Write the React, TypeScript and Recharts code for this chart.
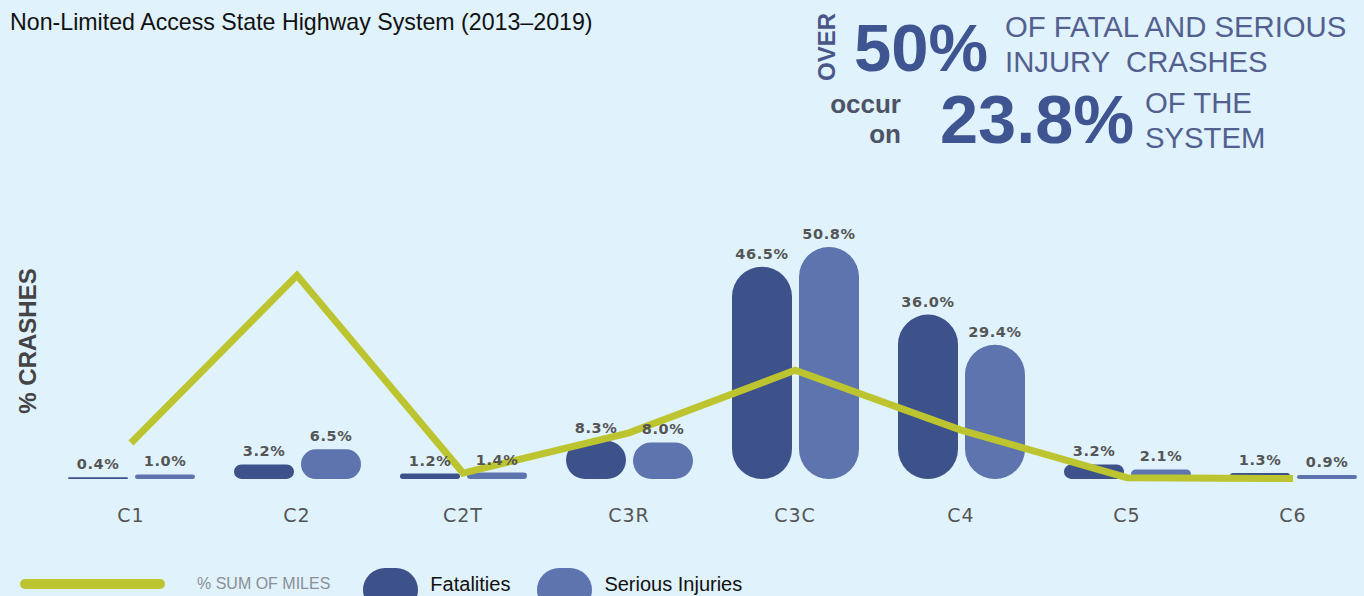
import { ComposedChart, Bar, Line, XAxis, YAxis, LabelList } from "recharts";

const categories = ["C1", "C2", "C2T", "C3R", "C3C", "C4", "C5", "C6"];
const fatalities = [0.4, 3.2, 1.2, 8.3, 46.5, 36.0, 3.2, 1.3];
const seriousInjuries = [1.0, 6.5, 1.4, 8.0, 50.8, 29.4, 2.1, 0.9];
const sumOfMiles = [7.9, 44.6, 1.3, 10.1, 23.8, 10.7, 0.3, 0.1];

const BG = "#e0f2fc";
const DARK = "#3d528a";
const LIGHT = "#5d74ae";
const LIME = "#bcc52f";
const SANS = "'Liberation Sans', Arial, sans-serif";

const data = categories.map((name, i) => ({
  name,
  fatalities: fatalities[i],
  serious: seriousInjuries[i],
  miles: sumOfMiles[i],
}));

const pct = (v: any) => `${Number(v).toFixed(1)}%`;

const labelStyle = {
  fontSize: 14.5,
  fontWeight: 700,
  fill: "#555",
  letterSpacing: 0.6,
  fontFamily: "'DejaVu Sans', sans-serif",
};

function Callout() {
  return (
    <svg
      width={1364}
      height={160}
      style={{ position: "absolute", left: 0, top: 0 }}
    >
      <text x={10} y={30} fontSize={23.2} fontFamily={SANS} fill="#111">
        Non-Limited Access State Highway System (2013–2019)
      </text>
      <text
        transform="translate(835,47) rotate(-90)"
        textAnchor="middle"
        fontSize={24}
        fontWeight={700}
        fontFamily={SANS}
        fill="#4a5688"
      >
        OVER
      </text>
      <text x={854} y={71} fontSize={67} fontWeight={700} fontFamily={SANS} fill="#3f5591">
        50%
      </text>
      <text x={1005} y={37} fontSize={29.3} fontFamily={SANS} fill="#52608f">
        OF FATAL AND SERIOUS
      </text>
      <text x={1005} y={72} fontSize={29.3} fontFamily={SANS} fill="#52608f" style={{ whiteSpace: "pre" }}>
        INJURY  CRASHES
      </text>
      <text x={901} y={113} textAnchor="end" fontSize={26} fontWeight={700} fontFamily={SANS} fill="#4d5366">
        occur
      </text>
      <text x={901} y={143} textAnchor="end" fontSize={26} fontWeight={700} fontFamily={SANS} fill="#4d5366">
        on
      </text>
      <text x={940} y={143} fontSize={68.5} fontWeight={700} fontFamily={SANS} fill="#3f5591">
        23.8%
      </text>
      <text x={1145} y={113} fontSize={29.3} fontFamily={SANS} fill="#52608f">
        OF THE
      </text>
      <text x={1145} y={148} fontSize={29.3} fontFamily={SANS} fill="#52608f">
        SYSTEM
      </text>
    </svg>
  );
}

const legendItems = [
  { name: "% SUM OF MILES", kind: "line", color: LIME, gap: 0 },
  { name: "Fatalities", kind: "bar", color: DARK, gap: 33 },
  { name: "Serious Injuries", kind: "bar", color: LIGHT, gap: 27 },
];

function ChartLegend() {
  return (
    <div
      style={{
        position: "absolute",
        left: 20,
        top: 568,
        display: "flex",
        alignItems: "flex-start",
        fontFamily: SANS,
      }}
    >
      {legendItems.map((item) =>
        item.kind === "line" ? (
          <div key={item.name} style={{ display: "flex", alignItems: "center", height: 32 }}>
            <div style={{ width: 145, height: 10, borderRadius: 5, background: item.color }} />
            <span style={{ marginLeft: 32, fontSize: 16, color: "#8a8f96", whiteSpace: "nowrap" }}>
              {item.name}
            </span>
          </div>
        ) : (
          <div key={item.name} style={{ display: "flex", alignItems: "flex-start", marginLeft: item.gap }}>
            <div style={{ width: 55, height: 44, borderRadius: 24, background: item.color }} />
            <span style={{ marginLeft: 12, fontSize: 20, color: "#111", lineHeight: "32px", whiteSpace: "nowrap" }}>
              {item.name}
            </span>
          </div>
        )
      )}
    </div>
  );
}

export default function App() {
  return (
    <div
      style={{
        position: "absolute",
        left: 0,
        top: 0,
        width: 1364,
        height: 596,
        overflow: "hidden",
        background: BG,
      }}
    >
      <Callout />
      <svg width={60} height={596} style={{ position: "absolute", left: 0, top: 0 }}>
        <text
          transform="translate(36,341) rotate(-90)"
          textAnchor="middle"
          fontSize={24}
          fontWeight={700}
          fontFamily={SANS}
          fill="#444"
        >
          % CRASHES
        </text>
      </svg>
      <div style={{ position: "absolute", left: 0, top: 0 }}>
        <ComposedChart
          width={1380}
          height={596}
          data={data}
          margin={{ top: 205, right: 4, left: 48, bottom: 77 }}
          barSize={60}
          barGap={7}
        >
          <XAxis
            dataKey="name"
            axisLine={false}
            tickLine={false}
            height={40}
            tickMargin={24}
            tick={{ fontSize: 19, fill: "#555", fontFamily: "'DejaVu Sans', sans-serif", letterSpacing: 1 }}
          />
          <YAxis hide domain={[0, 60]} />
          <Bar dataKey="fatalities" name="Fatalities" fill={DARK} radius={30} isAnimationActive={false}>
            <LabelList dataKey="fatalities" position="top" offset={8} formatter={pct} style={labelStyle} />
          </Bar>
          <Bar dataKey="serious" name="Serious Injuries" fill={LIGHT} radius={30} isAnimationActive={false}>
            <LabelList dataKey="serious" position="top" offset={8} formatter={pct} style={labelStyle} />
          </Bar>
          <Line
            dataKey="miles"
            name="% Sum of Miles"
            type="linear"
            stroke={LIME}
            strokeWidth={7}
            dot={false}
            activeDot={false}
            isAnimationActive={false}
          />
        </ComposedChart>
      </div>
      <ChartLegend />
    </div>
  );
}
